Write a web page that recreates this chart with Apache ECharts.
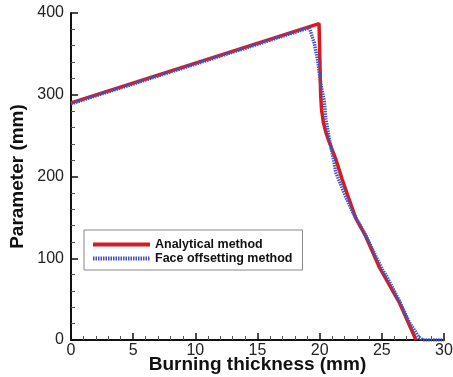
<!DOCTYPE html>
<html>
<head>
<meta charset="utf-8">
<script src="https://cdn.jsdelivr.net/npm/echarts@6/dist/echarts.min.js"></script>
<style>
  html, body { margin: 0; padding: 0; background: #fff; }
  #chart { width: 453px; height: 377px; }
</style>
</head>
<body>
<div id="chart"></div>
<script>
// values
const analyticalX = [0, 19.95, 20.02, 20.08, 20.15, 20.3, 20.5, 20.77, 21.05, 21.35, 21.8, 22.37, 22.9, 23.7, 24.8, 26.4, 27.75];
const analyticalY = [290, 387, 340, 300, 282, 266, 254, 242, 231, 219, 197, 172, 149, 127, 89, 46, 0];

const offsetX = [0, 19.17, 19.57, 19.84, 20.1, 20.37, 20.5, 20.8, 21.1, 21.3, 21.7, 22.1, 22.6, 23.7, 24.6, 25.05, 25.45, 26.4, 27.2, 28.0, 28.3, 30];
const offsetY = [289, 382, 363, 342, 312, 292, 270, 244, 222, 205, 190, 175, 158, 128, 100, 86, 76, 48, 22, 3, 0, 0];

const xTicks = { min: 0, max: 30, interval: 5 };
const yTicks = { min: 0, max: 400, interval: 100 };

const pairs = (xs, ys) => xs.map((x, i) => [x, ys[i]]);

const chart = echarts.init(document.getElementById('chart'));
const font = 'Liberation Sans, Arial, sans-serif';

const axisCommon = {
  type: 'value',
  nameLocation: 'middle',
  nameMoveOverlap: false,
  nameTextStyle: { fontFamily: font, fontSize: 19, fontWeight: 'bold', color: '#111' },
  axisLine: { show: true, lineStyle: { color: '#111', width: 2 } },
  axisTick: { show: true, inside: true, length: 7, lineStyle: { color: '#111', width: 1.5 } },
  minorTick: { show: true, splitNumber: 5, length: 4, lineStyle: { color: '#555', width: 1 } },
  splitLine: { show: false },
  axisLabel: { fontFamily: font, fontSize: 16, color: '#222' }
};

chart.setOption({
  animation: false,
  grid: { left: 71, right: 9, top: 13, bottom: 37, outerBoundsMode: 'none' },
  xAxis: {
    ...axisCommon,
    ...xTicks,
    name: 'Burning thickness (mm)',
    nameGap: 15,
    axisLabel: { ...axisCommon.axisLabel, margin: 3 }
  },
  yAxis: {
    ...axisCommon,
    ...yTicks,
    name: 'Parameter (mm)',
    nameGap: 44,
    axisLabel: { ...axisCommon.axisLabel, margin: 7 }
  },
  legend: {
    orient: 'vertical',
    left: 84,
    top: 230,
    padding: [8, 10, 5, 7],
    itemWidth: 57,
    itemHeight: 12,
    itemGap: 1,
    backgroundColor: '#fff',
    borderColor: '#888',
    borderWidth: 1,
    borderRadius: 0,
    itemStyle: { opacity: 0 },
    lineStyle: { width: 4 },
    textStyle: { fontFamily: font, fontSize: 12.5, fontWeight: 'bold', color: '#111' },
    data: ['Analytical method', 'Face offsetting method']
  },
  series: [
    {
      name: 'Analytical method',
      type: 'line',
      data: pairs(analyticalX, analyticalY),
      symbol: 'none',
      z: 2,
      lineStyle: { color: '#d71a22', width: 3.5 },
      itemStyle: { color: '#d71a22' }
    },
    {
      name: 'Face offsetting method',
      type: 'line',
      data: pairs(offsetX, offsetY),
      symbol: 'none',
      z: 3,
      lineStyle: { color: '#4353bd', width: 3.5, type: [1.5, 1] },
      itemStyle: { color: '#4353bd' }
    }
  ]
});
</script>
</body>
</html>
